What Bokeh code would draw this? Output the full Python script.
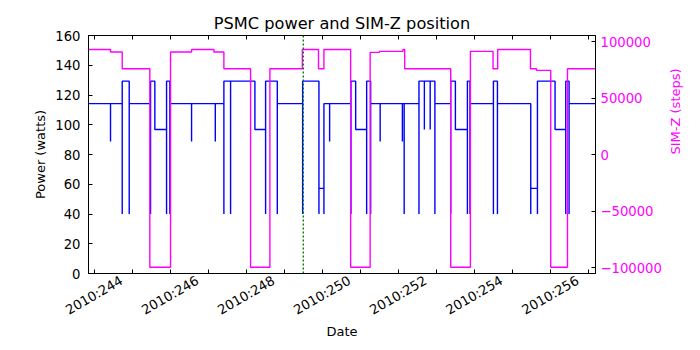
import math
from bokeh.plotting import figure
from bokeh.models import Range1d, LinearAxis, FixedTicker, Span
from bokeh.embed import file_html
from bokeh.resources import INLINE

# ---------------- data (day of year 2010) ----------------
# PSMC power (watts): change points, step "after"
power_day = [
    243.855,
    244.434, 244.434,
    244.742, 244.742,
    244.926, 244.926,
    245.487, 245.487,
    245.600,
    245.908, 245.908,
    245.995, 245.995,
    246.566, 246.566,
    247.190, 247.190,
    247.416, 247.416,
    247.592, 247.592,
    248.232,
    248.513, 248.513,
    248.821, 248.821,
    249.487, 249.487,
    249.916, 249.916,
    250.047, 250.047,
    250.197, 250.197,
    250.758, 250.758,
    250.882,
    251.171, 251.171,
    251.276, 251.276,
    251.526, 251.526,
    252.111, 252.111,
    252.158, 252.158,
    252.547, 252.547,
    252.689, 252.689,
    252.842, 252.842,
    252.966, 252.966,
    253.382, 253.382,
    253.505,
    253.821, 253.821,
    253.889, 253.889,
    254.505, 254.505,
    254.611, 254.611,
    255.487, 255.487,
    255.663, 255.663,
    256.126,
    256.408, 256.408,
    256.495, 256.495,
    257.190,
]
power_watts = [
    114.2,
    88.8, 114.2,
    40.0, 129.3,
    40.0, 114.2,
    40.0, 129.3,
    96.8,
    40.0, 129.3,
    40.0, 114.2,
    88.8, 114.2,
    88.8, 114.2,
    40.0, 129.3,
    40.0, 129.3,
    96.8,
    40.0, 129.3,
    40.0, 114.2,
    40.0, 129.3,
    40.0, 57.2,
    40.0, 114.2,
    88.8, 114.2,
    40.0, 129.3,
    96.8,
    40.0, 129.3,
    40.0, 114.2,
    88.8, 114.2,
    88.8, 114.2,
    40.0, 114.2,
    40.0, 129.3,
    96.8, 129.3,
    96.8, 129.3,
    40.0, 114.2,
    40.0, 129.3,
    96.8,
    40.0, 129.3,
    40.0, 114.2,
    40.0, 129.3,
    40.0, 114.2,
    40.0, 57.2,
    40.0, 129.3,
    96.8,
    40.0, 129.3,
    40.0, 114.2,
    114.2,
]

# SIM-Z position (steps): change points, step "after"
simz_day = [243.855, 244.434, 244.742, 245.468, 246.013, 246.566, 247.155,
            247.416, 248.118, 248.626, 249.479, 249.905, 250.047, 250.750,
            251.263, 251.513, 252.126, 252.171, 253.382, 253.900, 254.495,
            254.618, 255.479, 255.637, 256.013, 256.453, 257.190]
simz_steps = [93000, 90800, 76000, -99400, 90800, 93000, 90800,
              76000, -99400, 76000, 93000, 76000, 93000, -99400,
              90500, 91400, 93000, 76000, -99400, 91400, 76000,
              93000, 76000, 74600, -99400, 76000, 76000]

event_day = 249.505  # green dotted marker

tick_days = list(range(244, 258))
label_days = [244, 246, 248, 250, 252, 254, 256]
day_labels = ["2010:244", "2010:246", "2010:248", "2010:250",
              "2010:252", "2010:254", "2010:256"]
power_ticks = [0, 20, 40, 60, 80, 100, 120, 140, 160]
simz_ticks = [-100000, -50000, 0, 50000, 100000]
simz_tick_labels = ["\u2212100000", "\u221250000", "0", "50000", "100000"]

# ---------------- layout / style ----------------
FONT = "DejaVu Sans"
TICK = "13.2px"
LBL = "13px"
BLUE = "#0000ff"
MAG = "#ff00ff"
W, H = 700, 350
B_LEFT, B_RIGHT, B_TOP, B_BOTTOM = 88, 105, 35, 77
X0, X1 = 243.855, 257.19

p = figure(width=W, height=H, output_backend="svg", toolbar_location=None,
           x_range=Range1d(X0, X1), y_range=Range1d(0, 160),
           x_axis_location=None,
           min_border_left=B_LEFT, min_border_right=B_RIGHT,
           min_border_top=B_TOP, min_border_bottom=B_BOTTOM,
           title="PSMC power and SIM-Z position")
p.extra_y_ranges = {"simz": Range1d(-104860, 105390)}

# labels are centred under their ticks (rotated 30 deg): shift the label
# axis range by half the rotated label's horizontal reach
frame_w = W - B_LEFT - B_RIGHT
px_per_day = frame_w / (X1 - X0)
shift = 27.4 / px_per_day
p.extra_x_ranges = {"lab": Range1d(X0 - shift, X1 - shift)}

p.grid.visible = False
p.outline_line_color = "black"
p.outline_line_width = 1
p.background_fill_color = "white"
p.border_fill_color = "white"

p.title.align = "center"
p.title.text_font = FONT
p.title.text_font_size = "16.2px"
p.title.text_font_style = "normal"
p.title.text_color = "black"
p.title.standoff = 6

def style_axis(ax):
    ax.major_tick_in = 4
    ax.major_tick_out = 0
    ax.minor_tick_in = 0
    ax.minor_tick_out = 0
    ax.axis_line_color = "black"
    ax.major_tick_line_color = "black"
    ax.major_label_text_font = FONT
    ax.major_label_text_font_size = TICK
    ax.major_label_text_color = "black"
    ax.axis_label_text_font = FONT
    ax.axis_label_text_font_size = LBL
    ax.axis_label_text_font_style = "normal"
    ax.axis_label_text_color = "black"

def tick_only(ax):
    ax.major_label_text_font_size = "0px"
    ax.major_label_standoff = 0
    ax.major_label_overrides = {d: "" for d in tick_days}

# bottom ticks
bt = LinearAxis(ticker=FixedTicker(ticks=tick_days))
style_axis(bt)
tick_only(bt)
p.add_layout(bt, "below")

# bottom labels (no ticks / line)
bl = LinearAxis(x_range_name="lab", ticker=FixedTicker(ticks=label_days))
style_axis(bl)
bl.major_tick_in = 0
bl.axis_line_color = None
bl.major_tick_line_color = None
bl.major_label_overrides = dict(zip(label_days, day_labels))
bl.major_label_orientation = math.pi / 6
bl.major_label_standoff = 6
bl.axis_label = "Date"
bl.axis_label_standoff = -3
p.add_layout(bl, "below")

# top ticks
top = LinearAxis(ticker=FixedTicker(ticks=tick_days))
style_axis(top)
tick_only(top)
p.add_layout(top, "above")

ya = p.yaxis[0]
style_axis(ya)
ya.ticker = FixedTicker(ticks=power_ticks)
ya.major_label_standoff = 8
ya.axis_label = "Power (watts)"
ya.axis_label_standoff = 4

ra = LinearAxis(y_range_name="simz", ticker=FixedTicker(ticks=simz_ticks))
style_axis(ra)
ra.major_label_overrides = dict(zip(simz_ticks, simz_tick_labels))
ra.major_label_text_color = MAG
ra.major_label_standoff = 5
ra.axis_label = "SIM-Z (steps)"
ra.axis_label_text_color = MAG
ra.axis_label_standoff = 11
ra.axis_label_orientation = math.pi / 2
p.add_layout(ra, "right")

p.add_layout(Span(location=event_day, dimension="height", line_color="#008000",
                  line_dash="2 2", line_width=1.4))

p.step(power_day, power_watts, mode="after", line_color=BLUE, line_width=1.4)
p.step(simz_day, simz_steps, mode="after", line_color=MAG, line_width=1.4,
       y_range_name="simz")

open("out.html", "w").write(file_html(p, INLINE))
